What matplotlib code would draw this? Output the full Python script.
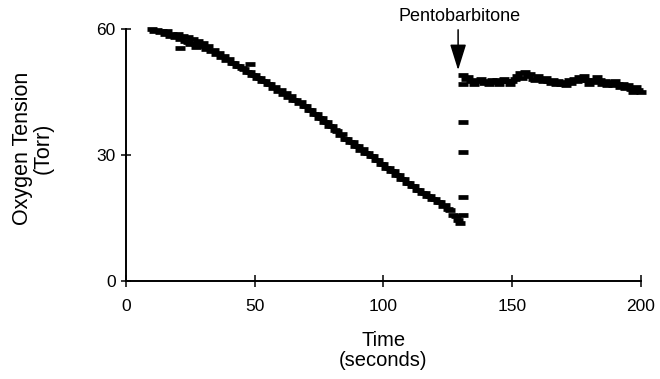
import matplotlib
matplotlib.use("Agg")
import matplotlib.pyplot as plt

plt.rcParams['font.family'] = ['Liberation Sans', 'DejaVu Sans']

# oxygen tension readings (Torr) before the drug, one per second
pre_time = list(range(10, 130)) + [129.7, 21, 48, 24, 27]
pre_tension = [
    59.9, 59.6, 59.8, 59.2, 59.6, 58.8, 59.4, 58.4, 58.9, 58.2,
    58.8, 57.6, 58.3, 57.2, 58.0, 56.5, 57.6, 56.4, 57.1, 56.0,
    56.6, 55.2, 55.9, 54.7, 55.0, 54.0, 54.3, 53.4, 53.5, 52.7,
    52.8, 51.9, 52.0, 51.2, 51.3, 50.6, 50.5, 49.7, 49.8, 49.0,
    49.1, 48.3, 48.4, 47.5, 47.6, 46.8, 46.9, 46.0, 46.1, 45.3,
    45.4, 44.6, 44.7, 43.8, 44.0, 43.1, 43.2, 42.4, 42.5, 41.6,
    41.6, 40.6, 40.7, 39.7, 39.8, 38.8, 38.8, 37.8, 37.8, 36.9,
    36.8, 35.9, 35.8, 34.8, 34.9, 33.9, 33.8, 33.0, 33.0, 32.1,
    32.2, 31.3, 31.4, 30.5, 30.5, 29.7, 29.7, 28.8, 28.8, 27.9,
    27.9, 27.0, 27.0, 26.1, 26.1, 25.2, 25.2, 24.3, 24.3, 23.4,
    23.4, 22.5, 22.5, 21.7, 21.7, 20.9, 21.0, 20.2, 20.2, 19.4,
    19.5, 18.7, 18.7, 17.9, 18.0, 17.1, 16.9, 15.8, 15.4, 14.6,
    13.9, 55.5, 51.7, 56.8, 55.6,
]

# rise right after the injection
jump_time = [131, 131, 131, 131]
jump_tension = [15.7, 20.0, 30.7, 37.9]

# plateau after pentobarbitone
post_time = [131] + list(range(131, 201))
post_tension = [
    49.1, 46.8, 48.1, 48.5, 47.6, 47.0, 47.9, 47.5, 48.1, 47.2, 47.6,
    46.9, 47.8, 47.3, 47.9, 47.0, 47.6, 48.2, 47.5, 47.0, 47.6,
    48.1, 48.7, 49.4, 48.4, 49.7, 48.8, 49.3, 48.2, 47.8, 48.7,
    48.1, 47.5, 48.4, 47.6, 47.2, 47.9, 47.0, 47.6, 46.9, 47.3,
    46.6, 47.8, 47.2, 48.2, 47.6, 48.5, 47.8, 48.7, 47.9, 47.0,
    47.9, 47.3, 48.5, 47.9, 46.9, 47.5, 46.6, 47.3, 46.7, 47.6,
    46.9, 46.3, 47.0, 46.0, 46.6, 45.6, 45.0, 46.1, 45.4, 45.1,
]

drug_time = 129

fig = plt.figure(figsize=(6.6, 3.79), dpi=100)
ax = fig.add_axes([0.191, 0.2586, 0.780, 0.665])

for t, v in [(pre_time, pre_tension), (jump_time, jump_tension), (post_time, post_tension)]:
    ax.plot(t, v, linestyle='none', marker='_', markersize=6.5, markeredgewidth=3.4,
            color='black', clip_on=False)

ax.annotate('', xy=(drug_time, 50.2), xytext=(drug_time, 59.8),
            arrowprops=dict(arrowstyle='-|>,head_length=1.6,head_width=0.5',
                            mutation_scale=10, lw=1.1, color='black',
                            shrinkA=0, shrinkB=0),
            annotation_clip=False)
ax.text(drug_time + 0.7, 61.0, 'Pentobarbitone', ha='center', va='bottom',
        fontsize=13, clip_on=False)

ax.set_xlim(0, 200)
ax.set_ylim(0, 60)
ax.set_xticks([0, 50, 100, 150, 200])
ax.set_yticks([0, 30, 60])
ax.spines['top'].set_visible(False)
ax.spines['right'].set_visible(False)
for s in ['left', 'bottom']:
    ax.spines[s].set_linewidth(1.4)
ax.tick_params(axis='x', direction='inout', length=8, width=1.1, labelsize=12.5, pad=9)
ax.tick_params(axis='y', direction='inout', length=7, width=1.1, labelsize=12.5, pad=4)

ax.set_xlabel('Time\n(seconds)', fontsize=14.5, linespacing=1.05)
ax.set_ylabel('Oxygen Tension\n(Torr)', fontsize=15.5, linespacing=1.0)
ax.xaxis.set_label_coords(0.5, -0.2)
ax.yaxis.set_label_coords(-0.14, 0.526)

fig.savefig('out.png', dpi=100)
